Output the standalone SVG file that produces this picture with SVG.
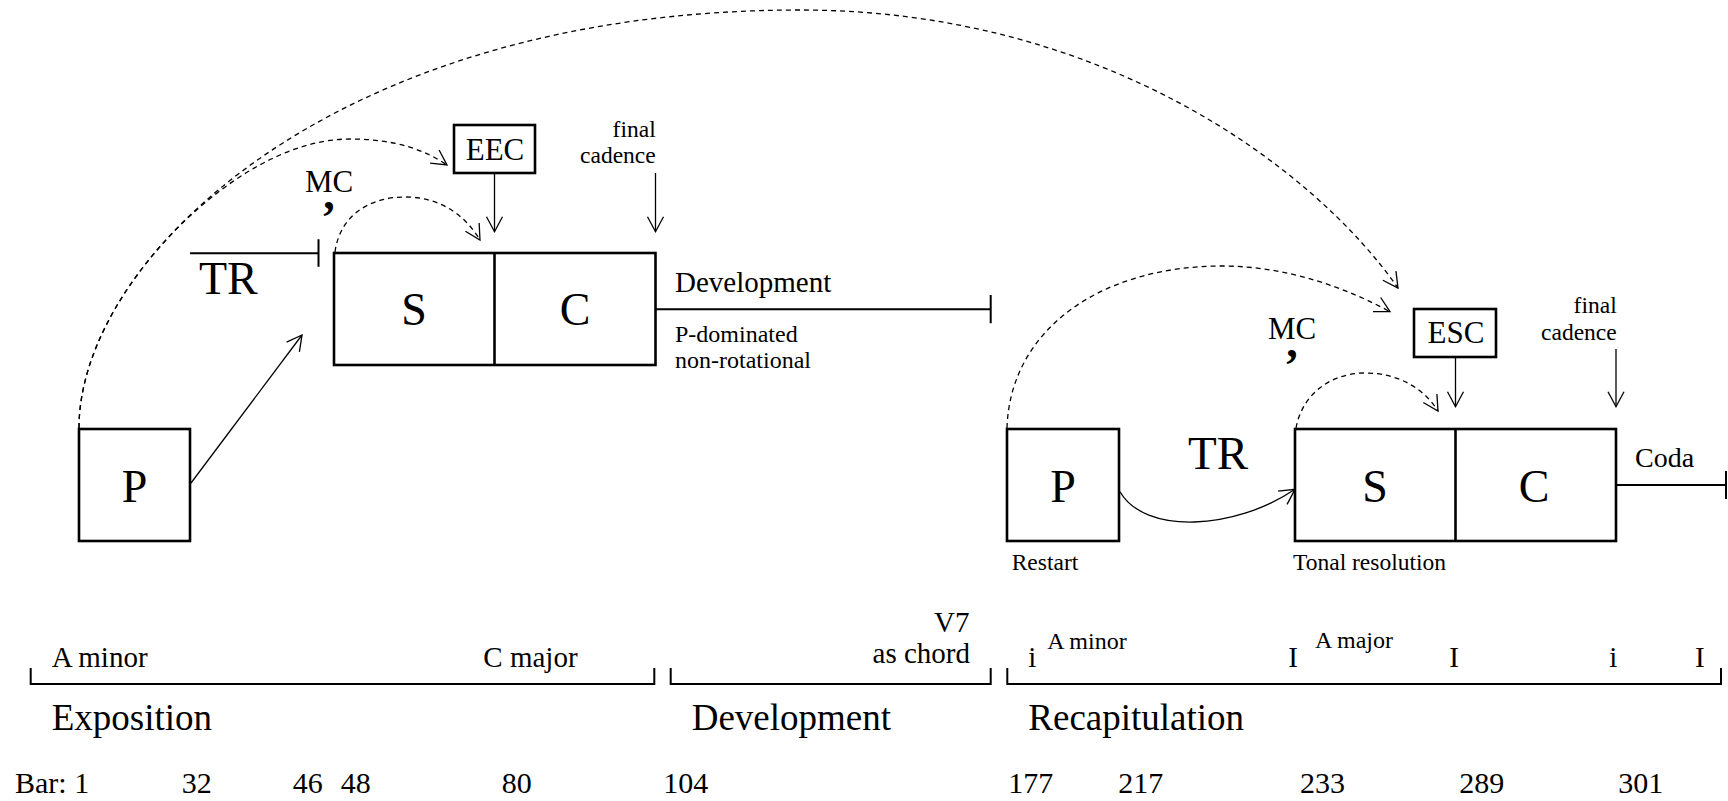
<svg xmlns="http://www.w3.org/2000/svg" width="1728" height="801" viewBox="0 0 1728 801" font-family="'Liberation Serif', 'DejaVu Serif', 'Noto Serif', serif">
<style>
text{font-family:'Liberation Serif','DejaVu Serif','Noto Serif',serif;fill:#000}
.box{fill:#fff;stroke:#000;stroke-width:2.6}
.div{stroke:#000;stroke-width:2.6}
.thin{fill:none;stroke:#000;stroke-width:1.3}
.dash{fill:none;stroke:#000;stroke-width:1.3;stroke-dasharray:5 4}
.bar{fill:none;stroke:#000;stroke-width:2}
.big{font-size:46px;text-anchor:middle}
.tag{font-size:31px;text-anchor:middle}
.sm{font-size:23.5px}
.key{font-size:29px}
.sec{font-size:37px}
.num{font-size:30px}
</style>
<defs>
<marker id="ah" markerUnits="userSpaceOnUse" markerWidth="24" markerHeight="24" viewBox="-20 -12 24 24" refX="0" refY="0" orient="auto">
<path d="M-15,-8 L0,0 L-15,8" fill="none" stroke="#000" stroke-width="1.3" stroke-dasharray="none"/>
</marker>
</defs>
<rect width="1728" height="801" fill="#fff"/>

<g id="connectors">
<path class="dash" d="M79,428 C79,260 330,10 800,10 C1100,10 1312,165 1398,288" marker-end="url(#ah)"/>
<path class="dash" d="M79,428 C79,377.6 101.6,319.8 145.8,263.6 C189,208.6 270,139 350,139 C395,139 425,150 447,165" marker-end="url(#ah)"/>
<path class="dash" d="M335,252 C340,215 370,197 405,197 C440,197 465,215 480,240" marker-end="url(#ah)"/>
<path class="dash" d="M1007,428 C1010,330 1100,266 1222,266 C1290,266 1350,290 1390,311.7" marker-end="url(#ah)"/>
<path class="dash" d="M1296,428 C1302,395 1330,373 1365,373 C1400,373 1425,390 1438,411" marker-end="url(#ah)"/>
<path class="thin" d="M191,483 L302,335" marker-end="url(#ah)"/>
<path class="thin" d="M494.5,173 L494.5,231.7" marker-end="url(#ah)"/>
<path class="thin" d="M655.5,173 L655.5,231.7" marker-end="url(#ah)"/>
<path class="thin" d="M1455.5,357 L1455.5,406.7" marker-end="url(#ah)"/>
<path class="thin" d="M1616,349 L1616,406.7" marker-end="url(#ah)"/>
<path class="thin" d="M1120,491.7 C1145,535 1235,530 1295,489.3" marker-end="url(#ah)"/>
<path class="bar" d="M190,253.3 H318.5 M318.5,239.3 V266.7"/>
<path class="bar" d="M655.5,309.3 H990.7 M990.7,295 V323.3"/>
<path class="bar" d="M1616,485 H1726 M1726,471 V499"/>
</g>

<g id="exp-P">
<rect class="box" x="79" y="429" width="111" height="112"/>
<text class="big" x="134.5" y="501.7">P</text>
</g>
<g id="exp-TR">
<text x="199" y="294" style="font-size:46px">TR</text>
</g>
<g id="exp-MC">
<text x="305" y="191.7" style="font-size:31px">MC</text>
<text x="329" y="209" style="font-size:46px;font-weight:bold;text-anchor:middle">,</text>
</g>
<g id="exp-SC">
<rect class="box" x="334" y="253" width="321.5" height="112"/>
<line class="div" x1="494.5" y1="253" x2="494.5" y2="365"/>
<text class="big" x="414" y="325">S</text>
<text class="big" x="575" y="325">C</text>
</g>
<g id="EEC">
<rect class="box" x="454" y="125" width="81" height="48"/>
<text class="tag" x="495" y="160">EEC</text>
</g>
<g id="exp-final">
<text class="sm" x="655.7" y="136.7" text-anchor="end">final</text>
<text class="sm" x="655.7" y="163.3" text-anchor="end">cadence</text>
</g>
<g id="dev-label">
<text x="675" y="291.7" style="font-size:29px">Development</text>
<text x="675" y="341.7" style="font-size:24px">P-dominated</text>
<text x="675" y="368.3" style="font-size:24px">non-rotational</text>
</g>

<g id="rec-P">
<rect class="box" x="1007" y="429" width="112" height="112"/>
<text class="big" x="1063" y="501.7">P</text>
<text class="sm" x="1011.7" y="570">Restart</text>
</g>
<g id="rec-TR">
<text x="1188" y="469.3" style="font-size:47px">TR</text>
</g>
<g id="rec-MC">
<text x="1268" y="339.3" style="font-size:31px">MC</text>
<text x="1292" y="357" style="font-size:46px;font-weight:bold;text-anchor:middle">,</text>
</g>
<g id="rec-SC">
<rect class="box" x="1295" y="429" width="321" height="112"/>
<line class="div" x1="1455.5" y1="429" x2="1455.5" y2="541"/>
<text class="big" x="1375" y="501.7">S</text>
<text class="big" x="1534" y="501.7">C</text>
<text class="sm" x="1293" y="570">Tonal resolution</text>
</g>
<g id="ESC">
<rect class="box" x="1414" y="309" width="82" height="48"/>
<text class="tag" x="1456" y="343.3">ESC</text>
</g>
<g id="rec-final">
<text class="sm" x="1616.7" y="313.3" text-anchor="end">final</text>
<text class="sm" x="1616.7" y="340" text-anchor="end">cadence</text>
</g>
<g id="coda">
<text x="1635" y="466.7" style="font-size:28px">Coda</text>
</g>

<g id="bracket-exposition">
<path class="bar" d="M30.7,668 V684 H654.3 V668"/>
<text class="key" x="51.7" y="666.7">A minor</text>
<text class="key" x="483.3" y="666.7">C major</text>
<text class="sec" x="51.7" y="730">Exposition</text>
</g>
<g id="bracket-development">
<path class="bar" d="M670.7,668 V684 H990.7 V668"/>
<text class="key" x="969.5" y="631.7" text-anchor="end">V7</text>
<text class="key" x="970" y="663.3" text-anchor="end">as chord</text>
<text class="sec" x="691.7" y="730">Development</text>
</g>
<g id="bracket-recapitulation">
<path class="bar" d="M1007.3,668 V684 H1721 V668"/>
<text class="key" x="1028.3" y="666.7">i</text>
<text x="1047.3" y="649.3" style="font-size:24px">A minor</text>
<text class="key" x="1288.3" y="666.7">I</text>
<text x="1315" y="648.3" style="font-size:24px">A major</text>
<text class="key" x="1449.3" y="666.7">I</text>
<text class="key" x="1609.3" y="666.7">i</text>
<text class="key" x="1695" y="666.7">I</text>
<text class="sec" x="1028.3" y="730">Recapitulation</text>
</g>
<g id="bars">
<text class="num" x="15" y="792.7">Bar: 1</text>
<text class="num" x="181.7" y="792.7">32</text>
<text class="num" x="292.7" y="792.7">46</text>
<text class="num" x="340.7" y="792.7">48</text>
<text class="num" x="501.7" y="792.7">80</text>
<text class="num" x="663.3" y="792.7">104</text>
<text class="num" x="1008.3" y="792.7">177</text>
<text class="num" x="1118.3" y="792.7">217</text>
<text class="num" x="1300" y="792.7">233</text>
<text class="num" x="1459.3" y="792.7">289</text>
<text class="num" x="1618.3" y="792.7">301</text>
</g>
</svg>
